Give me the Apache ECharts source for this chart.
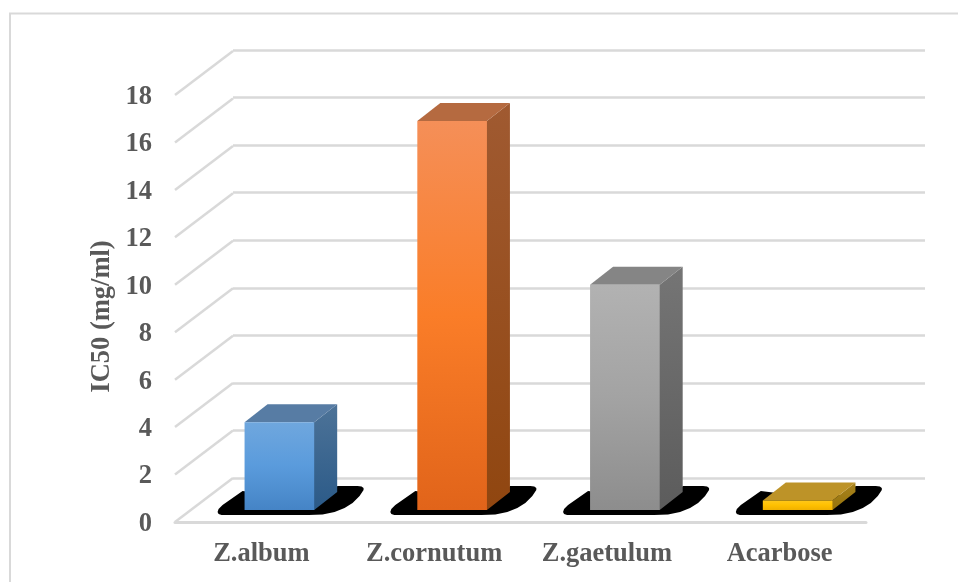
<!DOCTYPE html>
<html>
<head>
<meta charset="utf-8">
<style>html,body{margin:0;padding:0;background:#fff}#chart{width:958px;height:582px}</style>
<script src="https://cdn.jsdelivr.net/npm/echarts@6/dist/echarts.min.js"></script>
</head>
<body>
<div id="chart"></div>
<script>
// IC50 values per extract
const categories = ['Z.album', 'Z.cornutum', 'Z.gaetulum', 'Acarbose'];
const ic50Values = [3.7, 16.4, 9.5, 0.4];
const yTicks = [0, 2, 4, 6, 8, 10, 12, 14, 16, 18];
const axisTitle = 'IC50 (mg/ml)';

// Shades for each column: front gradient stops, side gradient stops, top face
const palettes = [
  { front: ['#6fa7de', '#5a9bdc', '#4584c6'], side: ['#4d7398', '#2b5a88'], top: '#577ca4' },
  { front: ['#f58f58', '#fa7d28', '#e1641a'], side: ['#a05a31', '#904610'], top: '#b56a40' },
  { front: ['#b2b2b2', '#a3a3a3', '#8d8d8d'], side: ['#757575', '#5c5c5c'], top: '#858585' },
  { front: ['#ffc81a', '#ffc000', '#f0b000'], side: ['#a8831d', '#96730c'], top: '#bd9328' }
];

// Pseudo-3D projection of the chart box
const WALL_DX = 58, WALL_DY = -44;     // front plane to back wall
const BASE_DX = 18, BASE_DY = -12;     // column centre inset from the front edge
const COL_DX = 23, COL_DY = -18;       // column depth
const GRID_COLOR = '#d9d9d9', TEXT_COLOR = '#595959';
const FONT = '"Liberation Serif", serif';

// Outline of the floor shadow, relative to the column's front-left foot
const SHADOW = [[-27, 2], [-26, -1], [-22, -5], [-12, -12], [-2, -19], [30, -15], [80, -15], [93, -24], [113, -24],
  [117, -23.5], [119, -22], [119, -20], [115, -14], [108, -7], [100, -2], [90, 2], [78, 4.5], [64, 5], [-23, 5], [-26, 4]];

const gradient = (stops) => new echarts.graphic.LinearGradient(0, 0, 0, 1,
  stops.map((c, i) => ({ offset: i / (stops.length - 1), color: c })));

function renderColumn(params, api) {
  const i = api.value(0);
  const foot = api.coord([i, 0]);
  const head = api.coord([i, api.value(1)]);
  const w = api.size([1, 0])[0] * 0.403;
  const x0 = foot[0] + BASE_DX - w / 2, x1 = x0 + w;
  const yb = foot[1] + BASE_DY, yt = head[1] + BASE_DY;
  const p = palettes[i];
  const poly = (points, fill) => ({ type: 'polygon', shape: { points }, style: { fill } });
  return {
    type: 'group',
    children: [
      poly(SHADOW.map(s => [x0 + s[0], yb + s[1]]), '#000000'),
      // The side face tucks slightly behind the front so no seam shows
      poly([[x1 - 1, yt], [x1, yt], [x1 + COL_DX, yt + COL_DY], [x1 + COL_DX, yb + COL_DY], [x1, yb], [x1 - 1, yb]], gradient(p.side)),
      poly([[x0, yt], [x1, yt], [x1 + COL_DX, yt + COL_DY], [x0 + COL_DX, yt + COL_DY]], p.top),
      { type: 'rect', shape: { x: x0, y: yt, width: w, height: yb - yt }, style: { fill: gradient(p.front) } }
    ]
  };
}

function renderSlant(params, api) {
  const a = api.coord([0, api.value(0)]);
  const x = a[0] - api.size([1, 0])[0] / 2;
  return {
    type: 'line',
    shape: { x1: x, y1: a[1], x2: x + WALL_DX, y2: a[1] + WALL_DY },
    style: { stroke: GRID_COLOR, lineWidth: 2.5 }
  };
}

const tickFont = { color: TEXT_COLOR, fontFamily: FONT, fontWeight: 'bold', fontSize: 26.5 };

const chart = echarts.init(document.getElementById('chart'), null, { renderer: 'canvas' });
chart.setOption({
  animation: false,
  backgroundColor: '#ffffff',
  graphic: [
    { type: 'polyline', silent: true, z: 0,
      shape: { points: [[10, 582], [10, 13.5], [958, 13.5]] },
      style: { stroke: GRID_COLOR, lineWidth: 2, fill: null } }
  ],
  grid: [
    { left: 175, right: 92, top: 95, bottom: 60 },
    { left: 233, right: 33, top: 50, bottom: 104 }
  ],
  xAxis: [
    { type: 'category', gridIndex: 0, data: categories,
      axisTick: { show: false },
      axisLine: { show: true, lineStyle: { color: GRID_COLOR, width: 3 } },
      axisLabel: { ...tickFont, margin: 19, interval: 0 } },
    { type: 'category', gridIndex: 1, data: categories, show: false }
  ],
  yAxis: [
    { type: 'value', gridIndex: 0, min: 0, max: 18, interval: 2,
      name: axisTitle, nameLocation: 'middle', nameGap: 59, nameRotate: 90, nameMoveOverlap: false,
      nameTextStyle: { ...tickFont, padding: [0, 16, 0, 0] },
      axisLine: { show: false }, axisTick: { show: false }, splitLine: { show: false },
      axisLabel: { margin: 23, formatter: '{n|{value}}',
        rich: { n: { ...tickFont, padding: [4, 0, 0, 0] } } } },
    { type: 'value', gridIndex: 1, min: 0, max: 18, interval: 2,
      axisLine: { show: false }, axisTick: { show: false }, axisLabel: { show: false },
      splitLine: { show: true, lineStyle: { color: GRID_COLOR, width: 2.5 } } }
  ],
  series: [
    { type: 'custom', xAxisIndex: 0, yAxisIndex: 0, silent: true, z: 1,
      renderItem: renderSlant, data: yTicks.map(v => [v]), encode: { y: 0 } },
    { type: 'custom', xAxisIndex: 0, yAxisIndex: 0, silent: true, z: 3,
      renderItem: renderColumn,
      data: ic50Values.map((v, i) => [i, v]), encode: { x: 0, y: 1 } }
  ]
});
</script>
</body>
</html>
